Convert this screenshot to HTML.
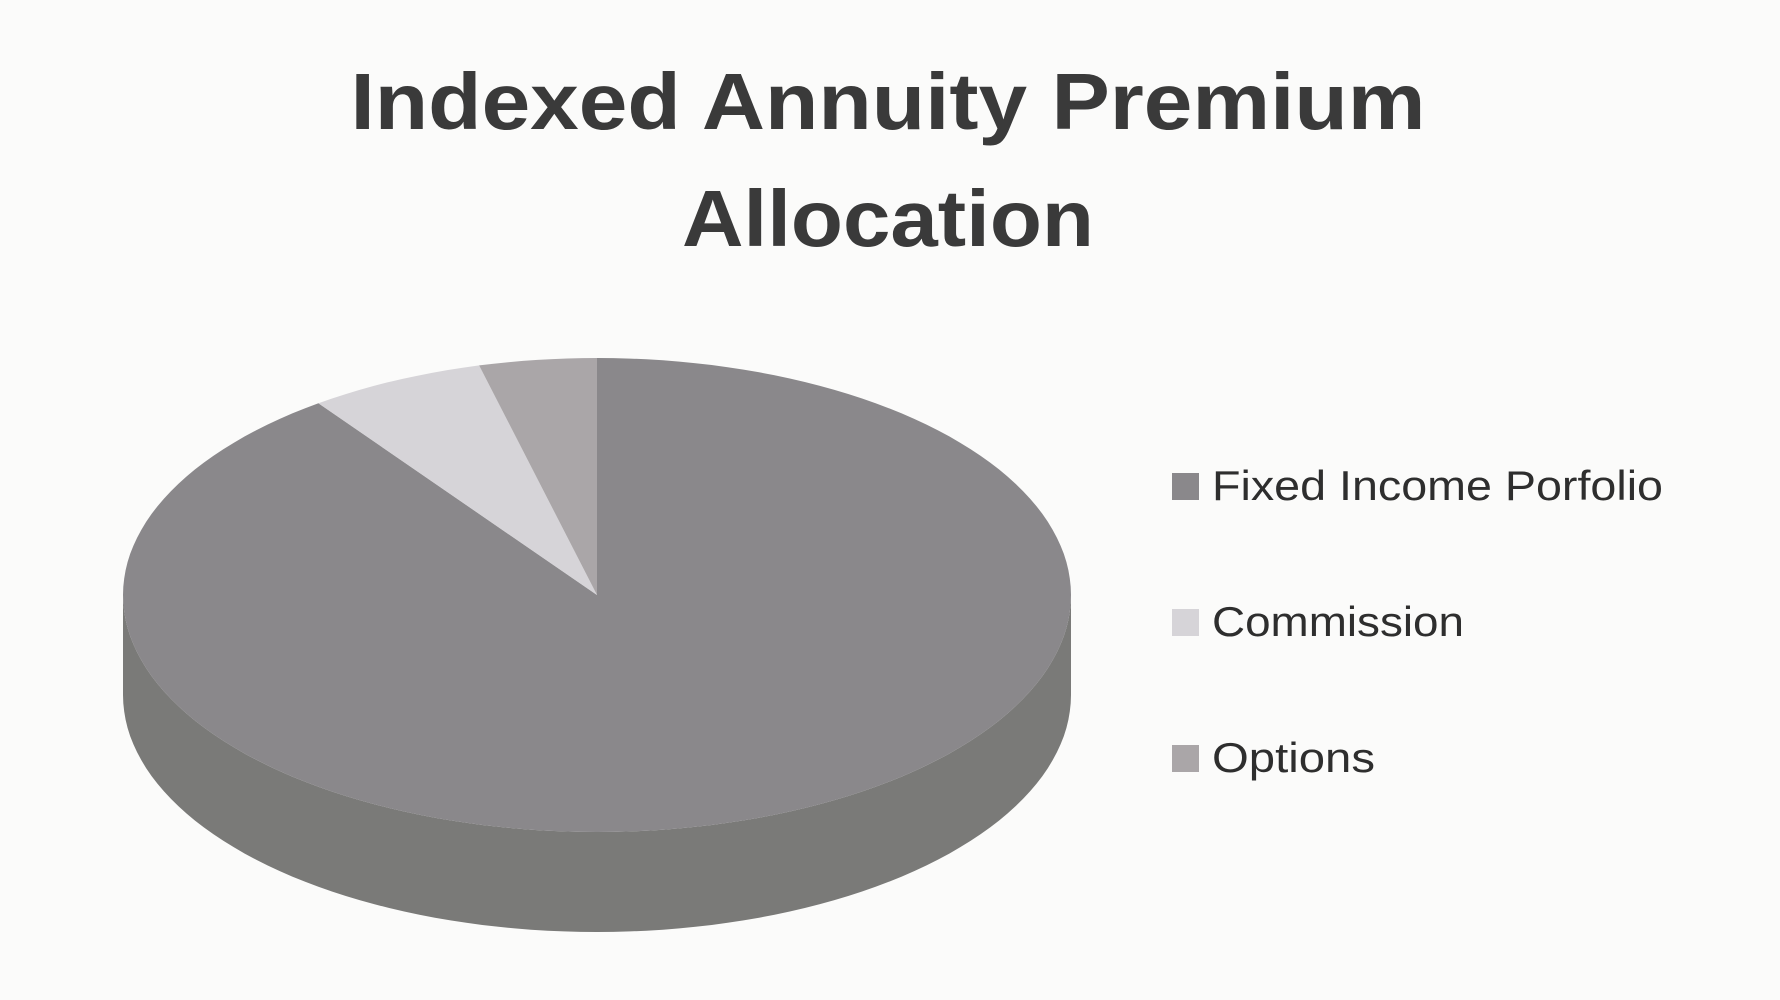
<!DOCTYPE html>
<html><head><meta charset="utf-8"><style>
html,body{margin:0;padding:0;background:#fbfbfa;}
svg{display:block;}
</style></head><body>
<svg id="chart" width="1780" height="1000" viewBox="0 0 1780 1000" xmlns="http://www.w3.org/2000/svg">
<rect width="1780" height="1000" fill="#fbfbfa"/>
<text x="888" y="129" text-anchor="middle" font-family="'Liberation Sans', sans-serif" font-weight="bold" font-size="80" fill="#3a3a3a" textLength="1075" lengthAdjust="spacingAndGlyphs">Indexed Annuity Premium</text>
<text x="888" y="246" text-anchor="middle" font-family="'Liberation Sans', sans-serif" font-weight="bold" font-size="80" fill="#3a3a3a" textLength="412" lengthAdjust="spacingAndGlyphs">Allocation</text>
<g id="pie"></g>
<g id="legend"></g>
</svg>
<script>
const categories = ["Fixed Income Porfolio", "Commission", "Options"];
const values = [90, 6, 4];
const topColors = ["#8a888b", "#d6d4d8", "#aaa6a8"];
const sideColors = ["#7a7a78", "#bdbbbd", "#959294"];
const labelWidths = [451, 252, 163];

const NS = "http://www.w3.org/2000/svg";
const cx = 597, cy = 595, rx = 474, ry = 237, depth = 100;
const pie = document.getElementById('pie');
const legend = document.getElementById('legend');
const total = values.reduce((a, b) => a + b, 0);
function pt(deg, dy) {
  const r = deg * Math.PI / 180;
  return [cx + rx * Math.sin(r), cy - ry * Math.cos(r) + (dy || 0)];
}
function arcPts(a0, a1, dy) {
  const pts = [];
  const n = Math.max(2, Math.ceil((a1 - a0) / 2));
  for (let i = 0; i <= n; i++) pts.push(pt(a0 + (a1 - a0) * i / n, dy));
  return pts;
}
let start = 0;
const angles = values.map(v => { const a0 = start; start += v / total * 360; return [a0, start]; });
angles.forEach(([a0, a1], i) => {
  const s = Math.max(a0, 90), e = Math.min(a1, 270);
  if (e <= s) return;
  const top = arcPts(s, e, 0), bot = arcPts(s, e, depth).reverse();
  const d = 'M' + top.concat(bot).map(p => p[0].toFixed(1) + ',' + p[1].toFixed(1)).join('L') + 'Z';
  const p = document.createElementNS(NS, 'path');
  p.setAttribute('d', d);
  p.setAttribute('fill', sideColors[i]);
  
  
  pie.appendChild(p);
});
angles.forEach(([a0, a1], i) => {
  const pts = arcPts(a0, a1, 0);
  const d = 'M' + cx + ',' + cy + 'L' + pts.map(p => p[0].toFixed(1) + ',' + p[1].toFixed(1)).join('L') + 'Z';
  const p = document.createElementNS(NS, 'path');
  p.setAttribute('d', d);
  p.setAttribute('fill', topColors[i]);
  
  
  pie.appendChild(p);
});
const legY = [500, 636, 772];
categories.forEach((c, i) => {
  const r = document.createElementNS(NS, 'rect');
  r.setAttribute('x', 1172); r.setAttribute('y', legY[i] - 27);
  r.setAttribute('width', 27); r.setAttribute('height', 27);
  r.setAttribute('fill', topColors[i]);
  
  
  legend.appendChild(r);
  const t = document.createElementNS(NS, 'text');
  t.setAttribute('x', 1212); t.setAttribute('y', legY[i]);
  t.setAttribute('font-family', "'Liberation Sans', sans-serif");
  t.setAttribute('font-size', '42');
  t.setAttribute('fill', '#2e2e2e');
  t.setAttribute('textLength', labelWidths[i]);
  t.setAttribute('lengthAdjust', 'spacingAndGlyphs');
  t.textContent = c;
  
  
  legend.appendChild(t);
});
</script>
</body></html>
